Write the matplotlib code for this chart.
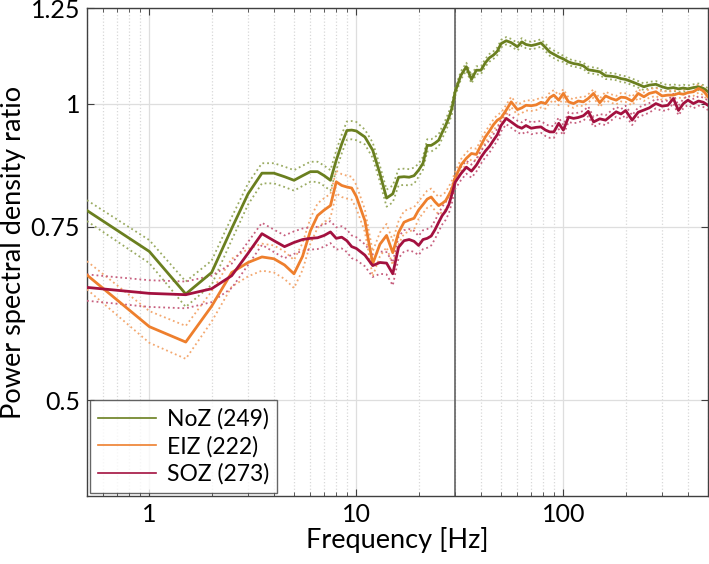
import matplotlib
matplotlib.use('Agg')
import matplotlib.pyplot as plt
import numpy as np
from matplotlib.ticker import FixedLocator, NullFormatter, NullLocator, LogLocator

plt.rcParams['font.family'] = ['Lato', 'DejaVu Sans']

# frequency grid [Hz]
freqs = [0.5, 1, 1.5, 2, 2.5, 3, 3.5, 4, 4.5, 5, 5.5, 6, 6.5, 7, 7.5, 8, 8.5, 9, 9.5, 10,
         11, 12, 13, 14, 15, 16, 17, 18, 19, 20, 21, 22, 23, 24, 25, 26, 27, 28, 29, 30,
         32, 34, 36, 38, 40, 42, 44, 46, 48, 50, 53, 56, 60, 63, 66, 70, 74, 78, 82, 86,
         90, 95, 100, 106, 112, 118, 125, 132, 140, 150, 160, 170, 180, 190, 200, 215, 230,
         245, 260, 280, 300, 320, 340, 360, 380, 400, 425, 450, 475, 500]

noz = [0.779, 0.708, 0.641, 0.674, 0.747, 0.81, 0.850, 0.850, 0.843, 0.836, 0.845, 0.853,
       0.853, 0.845, 0.836, 0.876, 0.91, 0.939, 0.940, 0.938,
       0.925, 0.897, 0.849, 0.802, 0.81, 0.842, 0.843, 0.842, 0.845, 0.856, 0.87, 0.907,
       0.907, 0.912, 0.918, 0.935, 0.95, 0.968, 0.99, 1.027,
       1.068, 1.09, 1.058, 1.081, 1.081, 1.10, 1.113, 1.12, 1.13, 1.15, 1.158, 1.153,
       1.142, 1.155, 1.148, 1.145, 1.148, 1.152, 1.14, 1.128,
       1.122, 1.115, 1.11, 1.102, 1.098, 1.096, 1.092, 1.082, 1.08, 1.077, 1.067, 1.066,
       1.064, 1.06, 1.058, 1.052, 1.046,
       1.04, 1.044, 1.046, 1.04, 1.036, 1.038, 1.035, 1.037, 1.035, 1.038, 1.04, 1.036, 1.028]

eiz = [0.67, 0.594, 0.573, 0.623, 0.674, 0.69, 0.699, 0.696, 0.686, 0.672, 0.700, 0.743,
       0.77, 0.78, 0.788, 0.833, 0.826, 0.823, 0.821, 0.805,
       0.761, 0.688, 0.72, 0.735, 0.706, 0.74, 0.758, 0.762, 0.765, 0.78, 0.79, 0.80,
       0.804, 0.795, 0.788, 0.792, 0.797, 0.808, 0.82, 0.84,
       0.866, 0.88, 0.89, 0.888, 0.907, 0.925, 0.938, 0.952, 0.962, 0.967, 0.985, 1.004,
       0.986, 0.99, 0.996, 0.995, 0.997, 1.003, 1.0, 1.014,
       1.02, 1.008, 1.024, 1.004, 1.0, 1.006, 1.004, 1.012, 1.024, 1.002, 1.018, 1.012,
       1.008, 1.015, 1.014, 1.006, 1.024,
       1.016, 1.024, 1.028, 1.018, 1.02, 1.02, 1.024, 1.022, 1.026, 1.028, 1.036, 1.03, 1.016]

soz = [0.651, 0.642, 0.64, 0.649, 0.669, 0.705, 0.738, 0.726, 0.716, 0.723, 0.728, 0.730,
       0.731, 0.735, 0.741, 0.730, 0.732, 0.726, 0.716, 0.713,
       0.702, 0.685, 0.69, 0.689, 0.672, 0.715, 0.726, 0.728, 0.725, 0.718, 0.728, 0.73,
       0.734, 0.745, 0.758, 0.77, 0.778, 0.79, 0.81, 0.832,
       0.849, 0.862, 0.854, 0.866, 0.882, 0.895, 0.905, 0.918, 0.93, 0.95, 0.966, 0.958,
       0.948, 0.944, 0.95, 0.944, 0.946, 0.947, 0.94, 0.936,
       0.936, 0.955, 0.94, 0.969, 0.966, 0.968, 0.972, 0.982, 0.958, 0.965, 0.962, 0.972,
       0.981, 0.976, 0.984, 0.962, 0.98,
       0.985, 0.99, 1.0, 0.994, 0.996, 1.012, 0.984, 1.0, 1.008, 1.0, 1.006, 1.003, 0.996]

# half width of the dotted error band, read per frequency range
band_edges = [0.5, 2.5, 11, 20, 30, 100, 500]
noz_sem = [0.019, 0.02, 0.016, 0.013, 0.01, 0.008]
eiz_sem = [0.022, 0.022, 0.02, 0.016, 0.012, 0.01]
soz_sem = [0.02, 0.019, 0.018, 0.016, 0.013, 0.011]

labels = ['NoZ (249)', 'EIZ (222)', 'SOZ (273)']
colors = ['#6a7f1f', '#ee7f2d', '#a3113f']
band_colors = ['#9aab62', '#f3a870', '#c7607f']


def sem_for(sem_list):
    f = np.array(freqs)
    idx = np.searchsorted(band_edges[1:-1], f, side='right')
    return np.array(sem_list)[idx]


fig = plt.figure(figsize=(7.09, 5.64), dpi=100)
ax = fig.add_axes([0.1227, 0.1206, 0.8759, 0.8652])

series = [noz, eiz, soz]
sems = [noz_sem, eiz_sem, soz_sem]
f = np.array(freqs)
for vals, sl, lab, c, bc in zip(series, sems, labels, colors, band_colors):
    v = np.array(vals)
    s = sem_for(sl)
    ax.plot(f, v + s, ':', color=bc, lw=1.3, zorder=3)
    ax.plot(f, v - s, ':', color=bc, lw=1.3, zorder=3)
for vals, lab, c in zip(series, labels, colors):
    ax.plot(f, vals, '-', color=c, lw=2.0, label=lab, zorder=4)

ax.axvline(30, color='#555555', lw=1.1, zorder=2)

ax.set_xscale('log')
ax.set_yscale('log')
ax.set_xlim(0.5, 500)
ax.set_ylim(0.4, 1.25)

ax.xaxis.set_major_locator(FixedLocator([1, 10, 100]))
ax.set_xticklabels(['1', '10', '100'])
ax.xaxis.set_minor_locator(LogLocator(base=10, subs=np.arange(2, 10)))
ax.xaxis.set_minor_formatter(NullFormatter())
ax.yaxis.set_major_locator(FixedLocator([0.5, 0.75, 1, 1.25]))
ax.set_yticklabels(['0.5', '0.75', '1', '1.25'])
ax.yaxis.set_minor_locator(NullLocator())
ax.yaxis.set_minor_formatter(NullFormatter())

ax.tick_params(which='both', direction='in', top=True, right=True, labelsize=18,
               color='#404040', pad=5)
ax.tick_params(which='major', length=5)
ax.tick_params(which='minor', length=3)

ax.grid(True, which='major', color='#dedede', lw=0.9, zorder=0)
ax.grid(True, which='minor', axis='x', color='#d8d8d8', ls=':', lw=0.9, zorder=0)
ax.set_axisbelow(True)
for sp in ax.spines.values():
    sp.set_color('#404040')
    sp.set_linewidth(1.0)

ax.set_xlabel('Frequency [Hz]', fontsize=19.5, labelpad=1)
ax.set_ylabel('Power spectral density ratio', fontsize=19.5, labelpad=3)

leg = ax.legend(loc='lower left', fontsize=16.5, frameon=True, fancybox=False,
                borderaxespad=0.15, handlelength=2.5, handletextpad=0.5,
                labelspacing=0.25, borderpad=0.35)
leg.get_frame().set_edgecolor('#404040')
leg.get_frame().set_linewidth(1.0)
for ln in leg.get_lines():
    ln.set_linewidth(1.2)

fig.savefig('out.png', dpi=100)
